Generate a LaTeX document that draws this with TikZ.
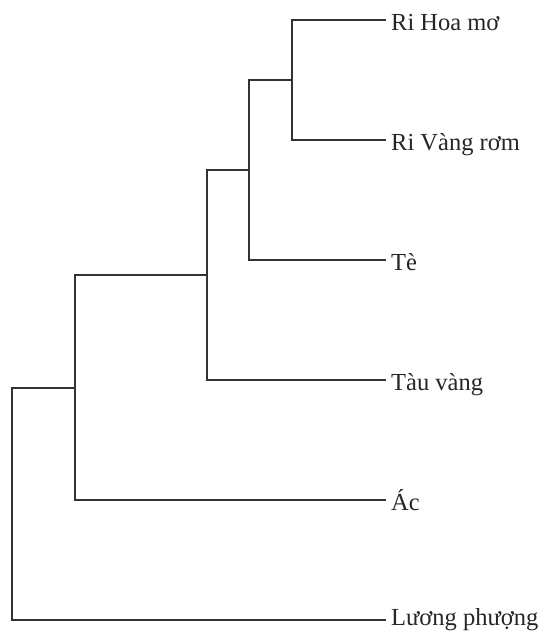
\documentclass[tikz,border=0pt]{standalone}
\usepackage{fontspec}
\setmainfont{Liberation Serif}
\begin{document}
\begin{tikzpicture}[x=1pt,y=-1pt,
  branch/.style={draw=black!80,line width=1.1pt},
  leaflabel/.style={anchor=base west,inner sep=0pt,xshift=5pt,yshift=-10pt,font=\fontsize{24.5}{29}\selectfont,text=black!85}]
\useasboundingbox (0,0) rectangle (543,632);
% leaf tips
\coordinate (t1) at (386,20);
\coordinate (t2) at (386,140);
\coordinate (t3) at (386,260);
\coordinate (t4) at (386,380);
\coordinate (t5) at (386,500);
\coordinate (t6) at (386,620);
% internal nodes
\coordinate (a) at (292,80);
\coordinate (b) at (249,170);
\coordinate (c) at (207,275);
\coordinate (d) at (75,388);
\coordinate (e) at (12,504);
% labels
\node[leaflabel] (l1) at (t1) {Ri Hoa mơ};
\node[leaflabel] (l2) at (t2) {Ri Vàng rơm};
\node[leaflabel] (l3) at (t3) {Tè};
\node[leaflabel] (l4) at (t4) {Tàu vàng};
\node[leaflabel] (l5) at (t5) {Ác};
\node[leaflabel,yshift=4.5pt] (l6) at (t6) {Lương phượng};
% branches
\draw[branch] (t1) -| (a) |- (t2);
\draw[branch] (a) -| (b) |- (t3);
\draw[branch] (b) -| (c) |- (t4);
\draw[branch] (c) -| (d) |- (t5);
\draw[branch] (d) -| (e) |- (t6);
\end{tikzpicture}
\end{document}
